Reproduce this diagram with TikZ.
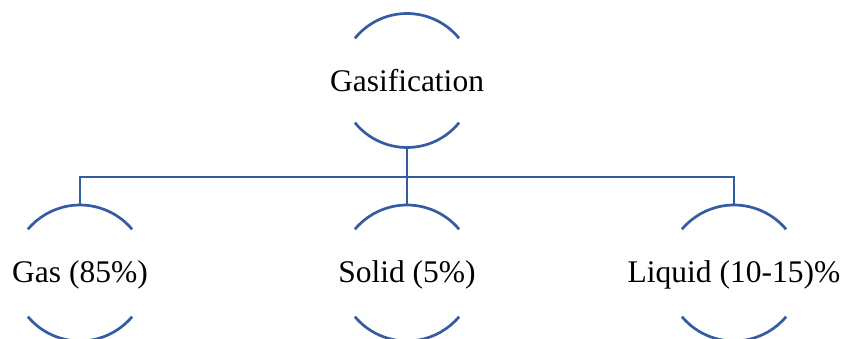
\documentclass[tikz,border=0pt]{standalone}
\usepackage{fontspec}
\setmainfont{Liberation Serif}
\definecolor{lineblue}{RGB}{52,92,162}
\begin{document}
\begin{tikzpicture}[x=1pt,y=1pt,
  ring/.style={circle,minimum size=#1,inner sep=0pt},
  arcline/.style={draw=lineblue,line width=2.7pt},
  link/.style={draw=lineblue,line width=2.7pt},
  label/.style={font=\fontsize{31.5}{36}\selectfont,inner sep=0pt}]
\useasboundingbox (0,0) rectangle (841,338);
% circles
\node[ring=134pt] (g) at (407,257.5) {};
\node[ring=136pt] (gas) at (80,65) {};
\node[ring=136pt] (sol) at (407,65) {};
\node[ring=136pt] (liq) at (734,65) {};
% arcs
\draw[arcline] ([shift={(39:67)}]g.center) arc (39:141:67);
\draw[arcline] ([shift={(219:67)}]g.center) arc (219:321:67);
\foreach \n in {gas,sol,liq}{
  \draw[arcline] ([shift={(40:68)}]\n.center) arc (40:140:68);
  \draw[arcline] ([shift={(220:68)}]\n.center) arc (220:320:68);
}
% texts
\node[label] (tg) at (g.center) {Gasification};
\node[label] (tgas) at ([yshift=-2pt]gas.center) {Gas (85\%)};
\node[label] (tsol) at ([yshift=-2pt]sol.center) {Solid (5\%)};
\node[label] (tliq) at ([yshift=-2pt]liq.center) {Liquid (10-15)\%};
% connectors
\coordinate (j) at (407,161);
\draw[link] (g.south) -- (sol.north);
\draw[link] (gas.north) |- (j) -| (liq.north);
\end{tikzpicture}
\end{document}
